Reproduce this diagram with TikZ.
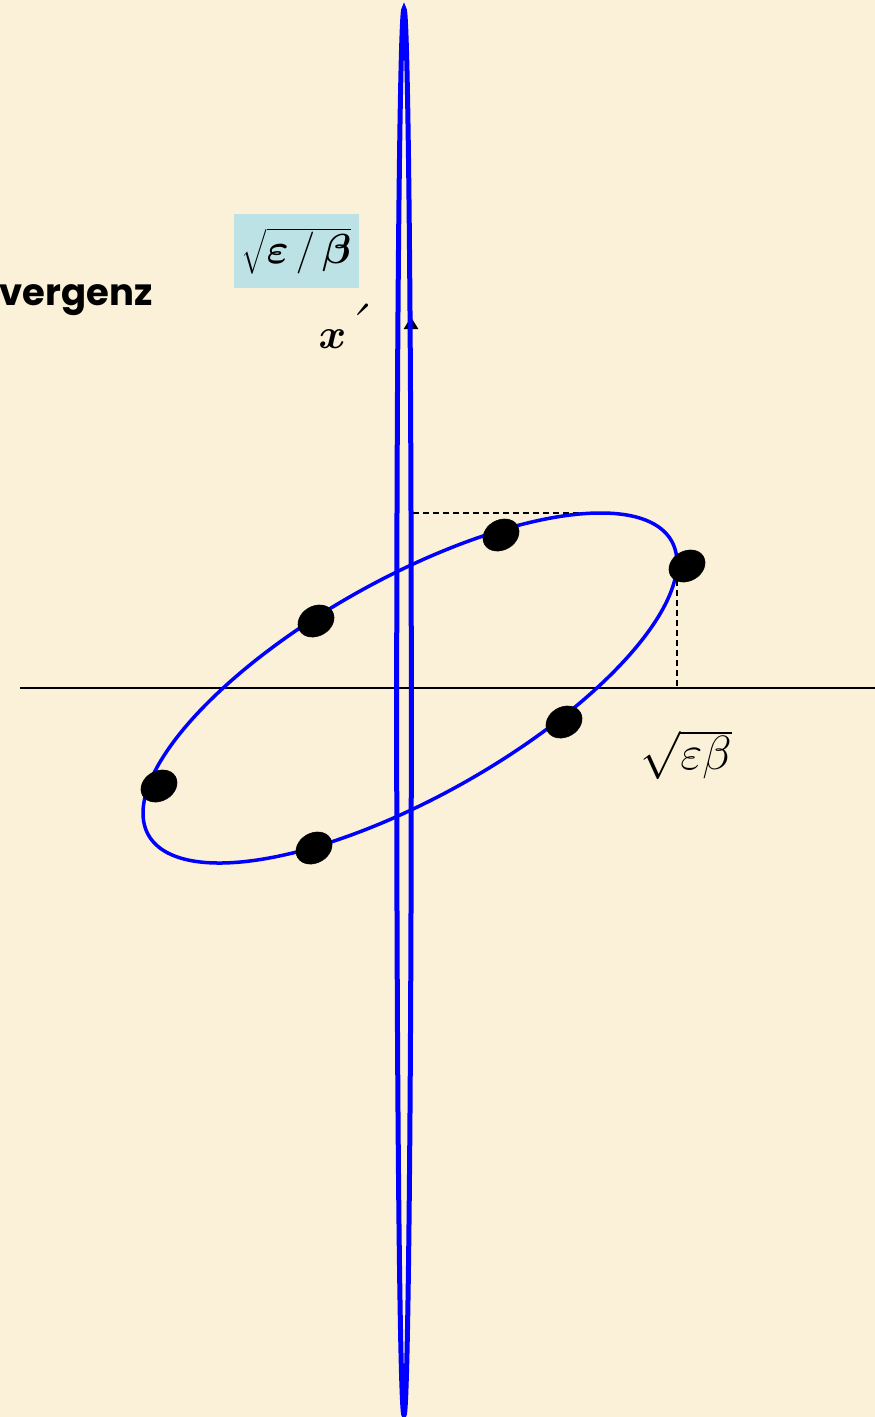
\RequirePackage{fix-cm}
\documentclass[tikz,border=0pt]{standalone}
\usepackage{amsmath}
\usepackage{bm}
\usepackage{fontspec}
\usepackage{tikz}
\usetikzlibrary{shapes.geometric,arrows.meta}
\newfontfamily\titlefont{Poppins}
\definecolor{paper}{RGB}{251,241,216}
\definecolor{labelblue}{RGB}{188,226,230}
\definecolor{orbitblue}{RGB}{0,0,255}

\begin{document}
\begin{tikzpicture}[x=1pt,y=-1pt,
  dot/.style={ellipse,fill=black,draw=black,minimum width=38pt,minimum height=30pt,inner sep=0pt,rotate=30},
  orbit/.style={draw=orbitblue,line width=3.5pt},
  narrow/.style={draw=orbitblue,line width=5pt},
  axis/.style={black,line width=2.5pt},
  guide/.style={black,line width=2pt,dash pattern=on 6pt off 4pt},
  mathlbl/.style={font=\fontsize{#1}{56}\selectfont,inner sep=2pt},
  mathlbl/.default=48]
\fill[paper] (0,0) rectangle (875,1417);
\useasboundingbox (0,0) rectangle (875,1417);
\clip (0,0) rectangle (875,1417);
\coordinate (xl) at (20,688);
\coordinate (xr) at (875,688);
\coordinate (yb) at (411,900);
\coordinate (yt) at (411,317);
\coordinate (ya) at (413,513);
\coordinate (tp) at (598,513);
\coordinate (rp) at (677,570);
\coordinate (rx) at (677,686);
\draw[axis] (xl) -- (xr);
\draw[axis,-{Triangle[length=12pt,width=14pt]}] (yb) -- (yt);
\draw[guide] (ya) -- (tp);
\draw[guide] (rp) -- (rx);
\draw[orbit] plot[variable=\t,domain=0:357.5,samples=144,smooth cycle]
   ({410+267*cos(\t)},{688-125*cos(\t)+122.5*sin(\t)});
\foreach \n/\px/\py in %
{1/501/535,2/687/566,3/316/621,4/564/722,5/159/786,6/314/848} {
   \node[dot] (p\n) at (\px,\py) {};
}
\draw[narrow] (404,712) ellipse [x radius=7.3, y radius=703];
\node[mathlbl=42,fill=labelblue,minimum width=125pt,minimum height=74pt] (emitb) at (296.5,251)
   {$\sqrt{\bm{\varepsilon}\,/\,\bm{\beta}}$};
\node[mathlbl] (emitx) at (686,755) {$\sqrt{\varepsilon\beta}$};
\node[mathlbl=42,anchor=base east] (xprime) at (378,348)
   {$\bm{x}${\fontsize{64}{64}\selectfont\textasciiacute}};
\node[font=\titlefont\bfseries\fontsize{37}{42}\selectfont,anchor=base east,inner sep=0pt] (title) at (153,305) {vergenz};
\end{tikzpicture}
\end{document}
